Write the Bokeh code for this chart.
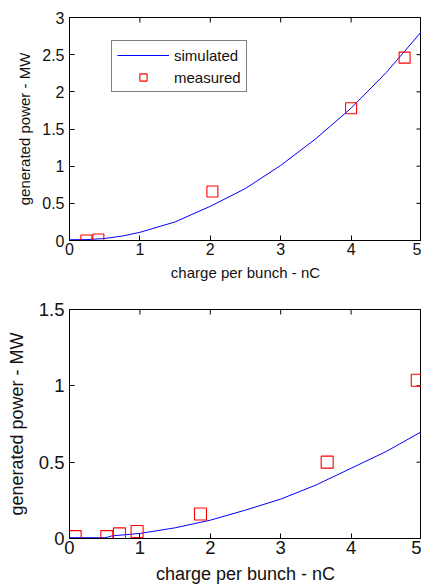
from bokeh.plotting import figure
from bokeh.layouts import column
from bokeh.models import FixedTicker, Legend, LegendItem, Range1d
from bokeh.embed import file_html
from bokeh.resources import INLINE
import math

# ---- data (top panel) ----
top_sim_x = [0, 0.25, 0.5, 0.75, 1, 1.5, 2, 2.5, 3, 3.5, 4, 4.5, 5]
top_sim_y = [0.01, 0.012, 0.027, 0.06, 0.11, 0.25, 0.46, 0.70, 1.01, 1.37, 1.78, 2.26, 2.81]
top_meas_x = [0.24, 0.41, 2.03, 4.0, 4.76]
top_meas_y = [0.0, 0.013, 0.66, 1.78, 2.46]
top_yticks = [0, 0.5, 1, 1.5, 2, 2.5, 3]

# ---- data (bottom panel) ----
bot_sim_x = [0, 0.5, 0.55, 0.6, 1, 1.5, 2, 2.5, 3, 3.5, 4, 4.5, 5]
bot_sim_y = [0.005, 0.005, 0.01, 0.017, 0.033, 0.07, 0.12, 0.186, 0.258, 0.35, 0.46, 0.57, 0.70]
bot_meas_x = [0.08, 0.53, 0.71, 0.96, 1.86, 3.66, 4.94]
bot_meas_y = [0.012, 0.012, 0.03, 0.046, 0.16, 0.50, 1.037]
bot_yticks = [0, 0.5, 1, 1.5]
xticks = [0, 1, 2, 3, 4, 5]

FONT = "Liberation Sans"
TXT = "#111111"


def style_axis(ax, size, standoff):
    ax.major_tick_in = 5
    ax.major_tick_out = 0
    ax.minor_tick_line_color = None
    ax.axis_line_color = "black"
    ax.major_tick_line_color = "black"
    ax.major_label_text_font = FONT
    ax.major_label_text_font_size = size
    ax.major_label_text_color = TXT
    ax.major_label_standoff = standoff


def make_panel(sx, sy, mx, my, yticks, ymax, height, bl, bt, bb,
               tick_size, lab_size, xstand, ystand, msize, legend):
    p = figure(width=421, height=height, output_backend="svg",
               toolbar_location=None, x_range=Range1d(0, 5),
               y_range=Range1d(0, ymax),
               min_border_left=bl, min_border_top=bt, min_border_bottom=bb,
               min_border_right=0)
    p.xgrid.visible = False
    p.ygrid.visible = False
    p.outline_line_color = "black"
    p.outline_line_width = 1
    p.background_fill_color = "white"
    p.border_fill_color = "white"

    p.xaxis.ticker = FixedTicker(ticks=xticks)
    p.yaxis.ticker = FixedTicker(ticks=yticks)
    style_axis(p.xaxis[0], tick_size, 2)
    style_axis(p.yaxis[0], tick_size, 5)
    p.xaxis.axis_label = "charge per bunch - nC"
    p.yaxis.axis_label = "generated power - MW"
    for ax in (p.xaxis[0], p.yaxis[0]):
        ax.axis_label_text_font = FONT
        ax.axis_label_text_font_size = lab_size
        ax.axis_label_text_font_style = "normal"
        ax.axis_label_text_color = TXT
    p.xaxis.axis_label_standoff = xstand
    p.yaxis.axis_label_standoff = ystand

    # inward tick marks on the top and right edges (MATLAB box style)
    p.ray(x=xticks, y=[ymax] * len(xticks), length=5, length_units="screen",
          angle=-math.pi / 2, line_color="black", line_width=1)
    p.ray(x=[5] * len(yticks), y=yticks, length=5, length_units="screen",
          angle=math.pi, line_color="black", line_width=1)

    r1 = p.line(sx, sy, line_color="#0000ff", line_width=1)
    r2 = p.scatter(mx, my, marker="square", size=msize, fill_color=None,
                   line_color="#ff0000", line_width=1.1)

    if legend:
        leg = Legend(items=[LegendItem(label="simulated", renderers=[r1]),
                            LegendItem(label="measured", renderers=[r2])],
                     location=(42, 148), orientation="vertical")
        leg.label_text_font = FONT
        leg.label_text_font_size = "15px"
        leg.label_text_color = TXT
        leg.border_line_color = "black"
        leg.border_line_width = 1
        leg.background_fill_color = "white"
        leg.background_fill_alpha = 1
        leg.padding = 5
        leg.spacing = 4
        leg.margin = 0
        leg.glyph_width = 52
        leg.glyph_height = 18
        leg.label_height = 18
        leg.label_width = 66
        leg.label_standoff = 5
        p.add_layout(leg, "center")
    return p


p1 = make_panel(top_sim_x, top_sim_y, top_meas_x, top_meas_y, top_yticks, 3,
                290, 63, 17, 50, "16px", "15px", 6, 6, 11, True)
p2 = make_panel(bot_sim_x, bot_sim_y, bot_meas_x, bot_meas_y, bot_yticks, 1.5,
                296, 69, 19, 48, "18.5px", "18px", 7, 9, 12, False)

layout = column(p1, p2, spacing=0)
open("out.html", "w").write(file_html(layout, INLINE))
